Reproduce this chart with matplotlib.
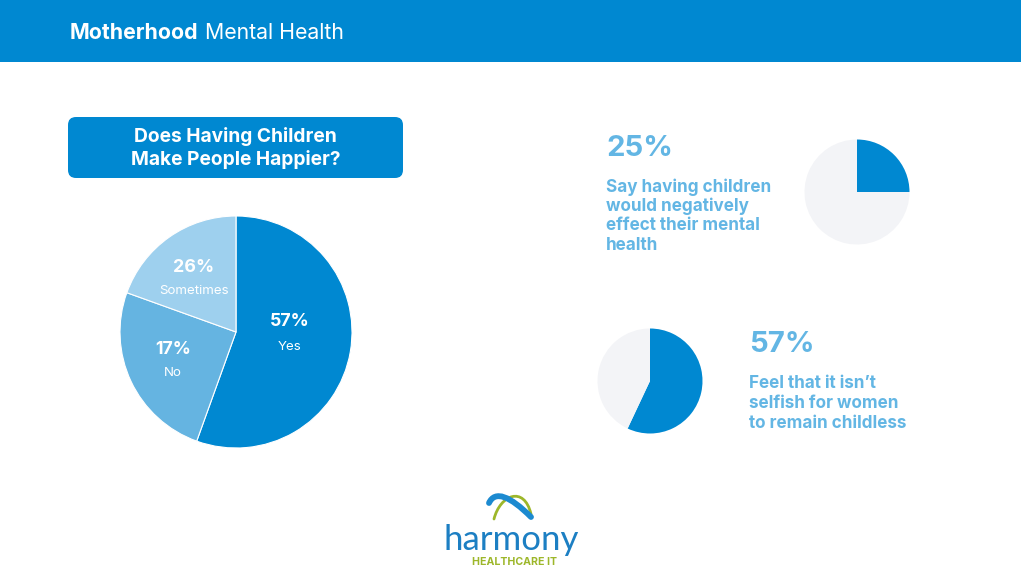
import matplotlib
matplotlib.use("Agg")
import matplotlib.pyplot as plt
from matplotlib.patches import FancyBboxPatch, Rectangle, PathPatch
from matplotlib.path import Path

plt.rcParams['font.family'] = ['Inter', 'DejaVu Sans']

# ---- data ----
main_categories = ["Yes", "No", "Sometimes"]
main_labels = ["57%", "17%", "26%"]
main_slice_shares = [55.5, 25.0, 19.5]   # slice sizes as drawn in the picture
stat1_value = 25
stat1_text = ["Say having children", "would negatively", "effect their mental", "health"]
stat2_value = 57
stat2_text = ["Feel that it isn\u2019t", "selfish for women", "to remain childless"]

title_bold = "Motherhood"
title_rest = " Mental Health"
question = "Does Having Children\nMake People Happier?"

DARK = "#0088D1"
MID = "#65B4E1"
LIGHT = "#9ED0EE"
GREY = "#F3F4F7"
TXT = "#63B6E4"

W, H = 1024, 588
fig = plt.figure(figsize=(W / 100, H / 100), dpi=100)
ax = fig.add_axes([0, 0, 1, 1])

def Y(py):
    return H - py

# header bar
ax.add_patch(Rectangle((0, Y(62)), 1021, 62, color=DARK, lw=0, zorder=1))

# question box
ax.add_patch(FancyBboxPatch((68, Y(178)), 335, 61,
                            boxstyle="round,pad=0,rounding_size=8",
                            fc=DARK, ec="none", zorder=1))
ax.text(235.5, Y(148), question, ha="center", va="center", color="white",
        fontsize=13.8, fontweight="bold", linespacing=1.25, zorder=3)

# main pie
ax.pie(main_slice_shares, colors=[DARK, MID, LIGHT], startangle=90,
       counterclock=False, center=(236, Y(332)), radius=116,
       wedgeprops=dict(linewidth=0.8, edgecolor="white"))

label_pos = {"Yes": (290, 322, 347), "No": (173, 350, 373), "Sometimes": (194, 267, 291)}
for cat, lab in zip(main_categories, main_labels):
    x, y1, y2 = label_pos[cat]
    ax.text(x, Y(y1), lab, ha="center", va="center", color="white",
            fontsize=12.8, fontweight="bold", zorder=4)
    ax.text(x, Y(y2), cat, ha="center", va="center", color="white",
            fontsize=9.6, zorder=4)

# small pie 1
ax.pie([stat1_value, 100 - stat1_value], colors=[DARK, GREY], startangle=90,
       counterclock=False, center=(857, Y(192)), radius=52.5,
       wedgeprops=dict(linewidth=0))
# small pie 2
ax.pie([stat2_value, 100 - stat2_value], colors=[DARK, GREY], startangle=90,
       counterclock=False, center=(650, Y(381)), radius=52.5,
       wedgeprops=dict(linewidth=0))

# stat texts
ax.text(606, Y(148), f"{stat1_value}%", ha="left", va="center", color=TXT,
        fontsize=21, fontweight="bold")
for i, line in enumerate(stat1_text):
    ax.text(606, Y(187 + i * 19.5), line, ha="left", va="center", color=TXT,
            fontsize=12.3, fontweight="bold")

ax.text(749, Y(345), f"{stat2_value}%", ha="left", va="center", color=TXT,
        fontsize=21, fontweight="bold")
for i, line in enumerate(stat2_text):
    ax.text(749, Y(383 + i * 20), line, ha="left", va="center", color=TXT,
            fontsize=12.3, fontweight="bold")

# logo
ax.text(511, Y(540), "harmony", ha="center", va="center", color="#1C7FC3",
        fontsize=25, family=["Lato", "DejaVu Sans"], zorder=5)
ax.text(515, Y(562), "HEALTHCARE IT", ha="center", va="center",
        color="#9DB72A", fontsize=7.6, fontweight="bold", zorder=5)
# logo mark
green = Path([(494, Y(519)), (500, Y(495)), (524, Y(485)), (531, Y(514))],
             [Path.MOVETO, Path.CURVE4, Path.CURVE4, Path.CURVE4])
ax.add_patch(PathPatch(green, fc="none", ec="#9DB72A", lw=2.0, capstyle="round", zorder=5))
blue = Path([(489, Y(503)), (495, Y(490)), (510, Y(496)), (531, Y(517))],
            [Path.MOVETO, Path.CURVE4, Path.CURVE4, Path.CURVE4])
ax.add_patch(PathPatch(blue, fc="none", ec="#1C8AD0", lw=4.2, capstyle="round", zorder=6))

ax.set_xlim(0, W)
ax.set_ylim(0, H)
ax.set_aspect("auto")
ax.axis("off")

# header title (two weights)
fig.canvas.draw()
t1 = ax.text(70, Y(33), title_bold, ha="left", va="center", color="white",
             fontsize=15.3, fontweight="bold")
fig.canvas.draw()
bb = t1.get_window_extent()
x_end = ax.transData.inverted().transform((bb.x1, bb.y0))[0]
ax.text(x_end, Y(33), title_rest, ha="left", va="center", color="white",
        fontsize=15.3)

fig.savefig("out.png", dpi=100, facecolor="white")
